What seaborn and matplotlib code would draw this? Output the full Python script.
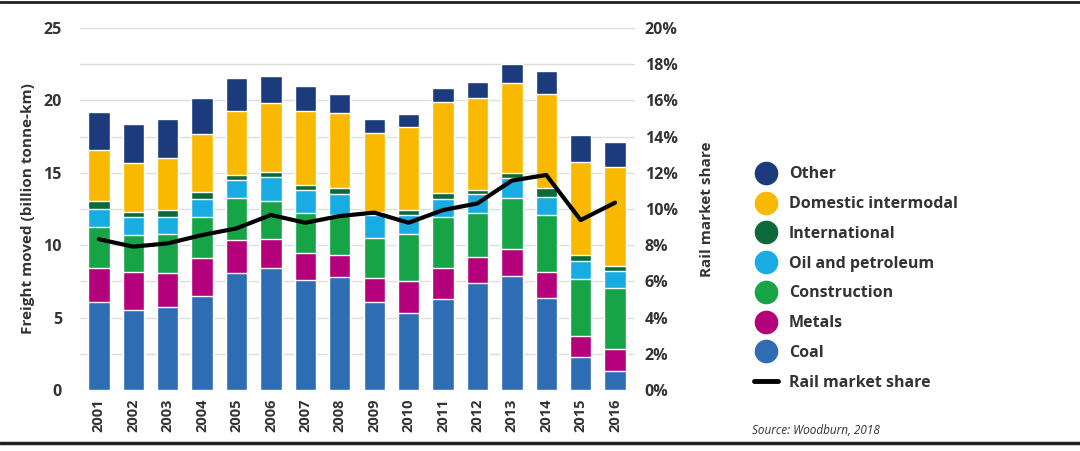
import numpy as np
import pandas as pd
import matplotlib
matplotlib.use("Agg")
import matplotlib.pyplot as plt
from matplotlib.lines import Line2D
import seaborn as sns

years = [str(y) for y in range(2001, 2017)]
coal =          [6.06, 5.52, 5.71, 6.51, 8.10, 8.45, 7.60, 7.78, 6.10, 5.34, 6.28, 7.37, 7.90, 6.38, 2.26, 1.31]
metals =        [2.39, 2.61, 2.39, 2.58, 2.26, 1.98, 1.84, 1.54, 1.61, 2.21, 2.17, 1.79, 1.82, 1.79, 1.49, 1.52]
construction =  [2.79, 2.57, 2.67, 2.88, 2.88, 2.64, 2.76, 2.77, 2.81, 3.20, 3.52, 3.04, 3.52, 3.92, 3.89, 4.24]
oil =           [1.26, 1.23, 1.20, 1.22, 1.26, 1.62, 1.61, 1.45, 1.57, 1.34, 1.22, 1.31, 1.38, 1.22, 1.27, 1.15]
international = [0.55, 0.34, 0.46, 0.46, 0.35, 0.39, 0.35, 0.39, 0.20, 0.34, 0.39, 0.30, 0.35, 0.62, 0.41, 0.36]
domestic =      [3.52, 3.39, 3.57, 4.01, 4.42, 4.76, 5.13, 5.18, 5.48, 5.71, 6.33, 6.33, 6.21, 6.49, 6.40, 6.84]
other =         [2.65, 2.69, 2.72, 2.53, 2.25, 1.87, 1.73, 1.33, 0.97, 0.92, 0.97, 1.15, 1.33, 1.61, 1.89, 1.68]
market_share =  [8.33, 7.92, 8.10, 8.56, 8.93, 9.67, 9.24, 9.61, 9.80, 9.24, 9.94, 10.31, 11.57, 11.88, 9.39, 10.35]

series_names = ["Coal", "Metals", "Construction", "Oil and petroleum",
                "International", "Domestic intermodal", "Other"]
series_vals = [coal, metals, construction, oil, international, domestic, other]
colors = ["#2e6db4", "#b5007c", "#16a446", "#19ace3", "#0c6a3a", "#f9b900", "#1b3b7c"]

df = pd.DataFrame({n: v for n, v in zip(series_names, series_vals)}, index=years)
cum = df.cumsum(axis=1)

sns.set_theme(style="white")
plt.rcParams['font.family'] = ['Open Sans', 'DejaVu Sans']
txt_color = "#333333"
W = 'bold'

fig = plt.figure(figsize=(10.8, 4.51), dpi=100)
ax = fig.add_axes([0.074, 0.1353, 0.514, 0.8026])

# stacked bars: draw cumulative totals from top series down
for name, col in reversed(list(zip(series_names, colors))):
    sns.barplot(x=years, y=cum[name].values, color=col, width=0.62,
                saturation=1, ax=ax, zorder=3)

ax.set_ylim(0, 25)
ax.set_xlim(-0.55, 15.58)
ax.set_yticks(np.arange(0, 26, 5))
ax.set_yticks(np.arange(0, 25.1, 2.5), minor=True)
ax.grid(axis='y', which='both', color='#dedede', lw=1, zorder=0)
ax.grid(axis='x', visible=False)
ax.set_axisbelow(True)
for s in ax.spines.values():
    s.set_visible(False)
ax.tick_params(axis='y', which='both', length=0, pad=13, labelsize=11.5, labelcolor=txt_color)
ax.tick_params(axis='x', length=0, pad=6, labelsize=10.5, labelcolor=txt_color)
for lab in ax.get_yticklabels():
    lab.set_fontweight(W)
ax.set_xticks(range(len(years)))
ax.set_xticklabels(years, rotation=90, fontweight=W)
ax.set_ylabel("Freight moved (billion tonne-km)", fontsize=11, fontweight=W,
              color=txt_color, labelpad=6)
ax.set_xlabel("")

ax2 = ax.twinx()
sns.lineplot(x=np.arange(len(years)), y=market_share, color='black', lw=3, ax=ax2, zorder=5)
ax2.set_ylim(0, 20)
ax2.set_xlim(-0.55, 15.58)
ax2.set_yticks(np.arange(0, 21, 2))
ax2.set_yticklabels([f"{v}%" for v in range(0, 21, 2)], fontweight=W)
ax2.tick_params(axis='y', length=0, pad=7, labelsize=11.5, labelcolor=txt_color)
ax2.grid(False)
for s in ax2.spines.values():
    s.set_visible(False)
ax2.set_ylabel("Rail market share", fontsize=11, fontweight=W, color=txt_color, labelpad=16)

# legend
handles = []
for name, col in reversed(list(zip(series_names, colors))):
    handles.append(Line2D([0], [0], marker='o', linestyle='none', markersize=16,
                          markerfacecolor=col, markeredgecolor=col, label=name))
handles.append(Line2D([0], [0], color='black', lw=3.5, label='Rail market share'))
leg = fig.legend(handles=handles, loc='upper left', bbox_to_anchor=(0.692, 0.645),
                 frameon=False, fontsize=11.5, labelspacing=0.86, handlelength=1.5,
                 handletextpad=0.7, borderaxespad=0)
for t in leg.get_texts():
    t.set_fontweight(W)
    t.set_color(txt_color)

fig.text(0.696, 0.046, "Source: Woodburn, 2018", fontsize=8.5, style='italic',
         color=txt_color, va='center')

fig.add_artist(Line2D([0, 1], [1 - 2 / 451, 1 - 2 / 451], color='#222222', lw=2,
                      transform=fig.transFigure))
fig.add_artist(Line2D([0, 1], [1 - 443 / 451, 1 - 443 / 451], color='#222222', lw=2.5,
                      transform=fig.transFigure))

fig.savefig("out.png", dpi=100)
